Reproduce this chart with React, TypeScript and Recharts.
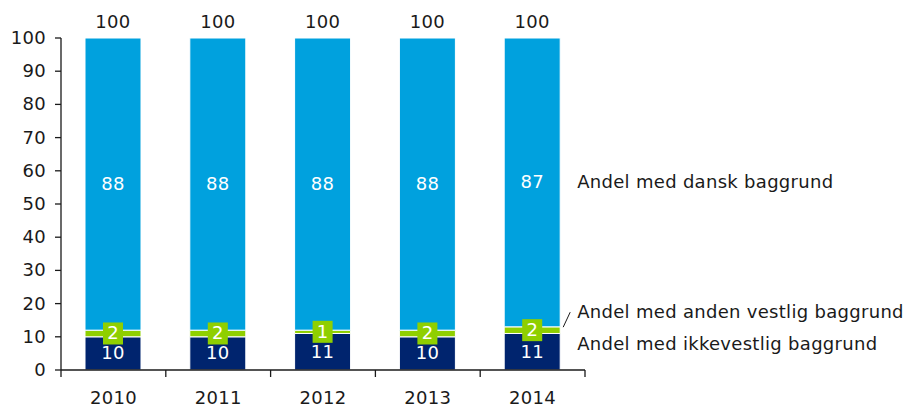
import React from 'react';
import { BarChart, Bar, XAxis, YAxis, LabelList } from 'recharts';

const years = ['2010', '2011', '2012', '2013', '2014'];
const ikkevestlig = [10, 10, 11, 10, 11];
const andenVestlig = [2, 2, 1, 2, 2];
const dansk = [88, 88, 88, 88, 87];
const totals = [100, 100, 100, 100, 100];
const yTicks = [0, 10, 20, 30, 40, 50, 60, 70, 80, 90, 100];
const seriesNames = {
  dansk: 'Andel med dansk baggrund',
  anden: 'Andel med anden vestlig baggrund',
  ikke: 'Andel med ikkevestlig baggrund',
};

const data = years.map((y, i) => ({
  year: y,
  ikke: ikkevestlig[i],
  anden: andenVestlig[i],
  dansk: dansk[i],
  total: totals[i],
}));

const W = 904;
const H = 408;
const M = { top: 38, right: 319, bottom: 8, left: 0 };
const Y_W = 61;
const X_H = 30;
const BAND = (W - M.left - M.right - Y_W) / years.length;
const FONT = "Verdana, 'DejaVu Sans', sans-serif";
const FS = 18;
const LS = 0.3;
const NAVY = '#00246e';
const BLUE = '#00a1de';
const GREEN = '#8fcf00';
const TXT = '#1a1a1a';

const XTick = (props: any) => {
  const { x, y, payload, index } = props;
  const lx = x - BAND / 2;
  return (
    <g>
      <line x1={lx} y1={y} x2={lx} y2={y + 7} stroke={TXT} strokeWidth={1.3} />
      {index === years.length - 1 && (
        <line x1={x + BAND / 2} y1={y} x2={x + BAND / 2} y2={y + 7} stroke={TXT} strokeWidth={1.3} />
      )}
      <text x={x} y={y + 28} dy={6} textAnchor="middle" fontFamily={FONT} fontSize={FS} letterSpacing={LS} fill={TXT}>
        {payload.value}
      </text>
    </g>
  );
};

const YTick = (props: any) => {
  const { x, y, payload } = props;
  return (
    <text x={x} y={y} dy={6} textAnchor="end" fontFamily={FONT} fontSize={FS} letterSpacing={LS} fill={TXT}>
      {payload.value}
    </text>
  );
};

const innerLabel = (props: any) => {
  const { x, y, width, height, value } = props;
  return (
    <text x={x + width / 2} y={y + height / 2} dy={6} textAnchor="middle" fontFamily={FONT} fontSize={FS} letterSpacing={LS} fill="#fff">
      {value}
    </text>
  );
};

const greenLabel = (props: any) => {
  const { x, y, width, height, value } = props;
  const cx = x + width / 2;
  const cy = y + height / 2;
  return (
    <g>
      <rect x={cx - 10} y={cy - 11} width={20} height={22} fill={GREEN} />
      <text x={cx} y={cy} dy={6} textAnchor="middle" fontFamily={FONT} fontSize={FS} fill="#fff">
        {value}
      </text>
    </g>
  );
};

const totalLabel = (props: any) => {
  const { x, y, width, value } = props;
  return (
    <text x={x + width / 2} y={y - 16} dy={6} textAnchor="middle" fontFamily={FONT} fontSize={FS} letterSpacing={LS} fill={TXT}>
      {value}
    </text>
  );
};

const sideLabel = (name: string, dy: number, leader: boolean) => (props: any) => {
  const { x, y, width, height, index } = props;
  if (index !== years.length - 1) return null;
  const cy = y + height / 2;
  const rx = x + width;
  return (
    <g>
      {leader && <line x1={rx + 3} y1={cy - 3} x2={rx + 10} y2={cy + dy} stroke={TXT} strokeWidth={1} />}
      <text x={rx + 17} y={cy + dy} dy={6} textAnchor="start" fontFamily={FONT} fontSize={FS} letterSpacing={LS} fill={TXT}>
        {name}
      </text>
    </g>
  );
};

export default function App() {
  return (
    <div style={{ position: 'absolute', left: 0, top: 0, width: W, height: H, background: '#fff' }}>
      <BarChart width={W} height={H} data={data} margin={M} barSize={56}>
        <XAxis
          dataKey="year"
          height={X_H}
          tickLine={false}
          tickSize={0}
          tickMargin={0}
          axisLine={{ stroke: TXT, strokeWidth: 1.3 }}
          tick={<XTick />}
          interval={0}
        />
        <YAxis
          width={Y_W}
          domain={[0, 100]}
          ticks={yTicks}
          interval={0}
          tickSize={6}
          tickMargin={9}
          axisLine={{ stroke: TXT, strokeWidth: 1.3 }}
          tickLine={{ stroke: TXT, strokeWidth: 1.3 }}
          tick={<YTick />}
        />
        <Bar dataKey="ikke" stackId="a" fill={NAVY} stroke="#fff" strokeWidth={1} isAnimationActive={false}>
          <LabelList dataKey="ikke" content={innerLabel} />
          <LabelList dataKey="ikke" content={sideLabel(seriesNames.ikke, -8, false)} />
        </Bar>
        <Bar dataKey="anden" stackId="a" fill={GREEN} stroke="#fff" strokeWidth={1} isAnimationActive={false}>
          <LabelList dataKey="anden" content={greenLabel} />
          <LabelList dataKey="anden" content={sideLabel(seriesNames.anden, -18, true)} />
        </Bar>
        <Bar dataKey="dansk" stackId="a" fill={BLUE} stroke="#fff" strokeWidth={1} isAnimationActive={false}>
          <LabelList dataKey="dansk" content={innerLabel} />
          <LabelList dataKey="total" content={totalLabel} />
          <LabelList dataKey="dansk" content={sideLabel(seriesNames.dansk, 0, false)} />
        </Bar>
      </BarChart>
    </div>
  );
}
